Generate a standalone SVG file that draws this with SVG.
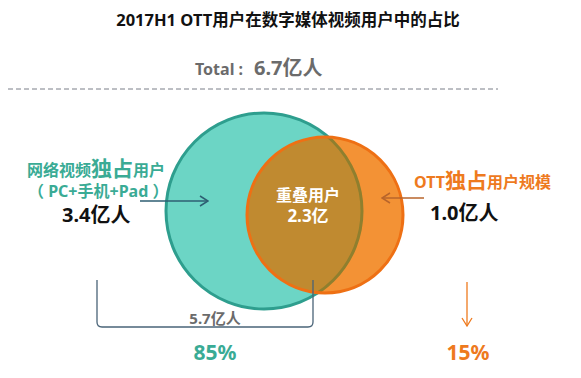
<svg xmlns="http://www.w3.org/2000/svg" width="581" height="378" viewBox="0 0 581 378">
<defs>
<style>
text{font-family:"Noto Sans","Noto Sans CJK SC",sans-serif;font-weight:bold}
.teal{fill:#3aab95}
.org{fill:#ee7a1e}
.gray{fill:#6b6b6b}
.blk{fill:#111}
.wht{fill:#fff}
</style>
<clipPath id="clipO"><circle cx="325" cy="215" r="78"/></clipPath>
<marker id="ahD" markerWidth="10" markerHeight="12" refX="9" refY="6" orient="auto" markerUnits="userSpaceOnUse"><path d="M1,1 L9,6 L1,11" fill="none" stroke="#2e5e72" stroke-width="1.5"/></marker>
<marker id="ahO" markerWidth="10" markerHeight="12" refX="9" refY="6" orient="auto" markerUnits="userSpaceOnUse"><path d="M1,1 L9,6 L1,11" fill="none" stroke="#b8652b" stroke-width="1.5"/></marker>
<marker id="ahV" markerWidth="10" markerHeight="12" refX="9" refY="6" orient="auto" markerUnits="userSpaceOnUse"><path d="M1,1 L9,6 L1,11" fill="none" stroke="#ee7a1e" stroke-width="1.3"/></marker>
</defs>
<rect width="581" height="378" fill="#fff"/>
<text x="288" y="26" text-anchor="middle" font-size="16.5" class="blk">2017H1 OTT用户在数字媒体视频用户中的占比</text>
<text x="195" y="75" font-size="16" class="gray">Total : <tspan x="254" font-size="20">6.7亿人</tspan></text>
<line x1="8" y1="89" x2="498" y2="89" stroke="#7a7f88" stroke-width="1" stroke-dasharray="5 3"/>
<g id="teal-circle">
<circle cx="264" cy="211" r="98" fill="#6cd5c5" stroke="#2e9e8e" stroke-width="3"/>
</g>
<g id="orange-circle">
<circle cx="325" cy="215" r="78" fill="#f39235"/>
<g clip-path="url(#clipO)">
<circle cx="264" cy="211" r="98" fill="#c08a30" stroke="#8f7f2e" stroke-width="3"/>
</g>
<circle cx="325" cy="215" r="78" fill="none" stroke="#ee7014" stroke-width="3"/>
</g>
<g id="overlap-label">
<text x="308" y="201" text-anchor="middle" font-size="16" class="wht">重叠用户</text>
<text x="308" y="222" text-anchor="middle" font-size="17" class="wht">2.3亿</text>
</g>
<g id="left-label">
<text x="27" y="176" font-size="16" class="teal">网络视频<tspan font-size="21">独占</tspan>用户</text>
<text x="28" y="197" font-size="16" class="teal">（ PC+手机+Pad ）</text>
<text x="62" y="222" font-size="20" class="blk">3.4亿人</text>
</g>
<g id="right-label">
<text x="414" y="188" font-size="16" class="org">OTT<tspan font-size="21">独占</tspan>用户规模</text>
<text x="430" y="220" font-size="20" class="blk">1.0亿人</text>
</g>
<g id="bottom">
<text x="215" y="324" text-anchor="middle" font-size="15" class="gray">5.7亿人</text>
<text x="215" y="360" text-anchor="middle" font-size="21" class="teal">85%</text>
<text x="468" y="360" text-anchor="middle" font-size="21" class="org">15%</text>
</g>
<g id="connectors" fill="none">
<line x1="140" y1="201" x2="208" y2="201" stroke="#2e5e72" stroke-width="1.5" marker-end="url(#ahD)"/>
<line x1="424" y1="198" x2="382" y2="198" stroke="#b8652b" stroke-width="1.5" marker-end="url(#ahO)"/>
<line x1="467" y1="282" x2="467" y2="326" stroke="#ee7a1e" stroke-width="1.3" marker-end="url(#ahV)"/>
<path d="M97,280 L97,322 Q97,327 102,327 L308,327 Q313,327 313,322 L313,280" stroke="#4a6478" stroke-width="1.3"/>
</g>
</svg>
